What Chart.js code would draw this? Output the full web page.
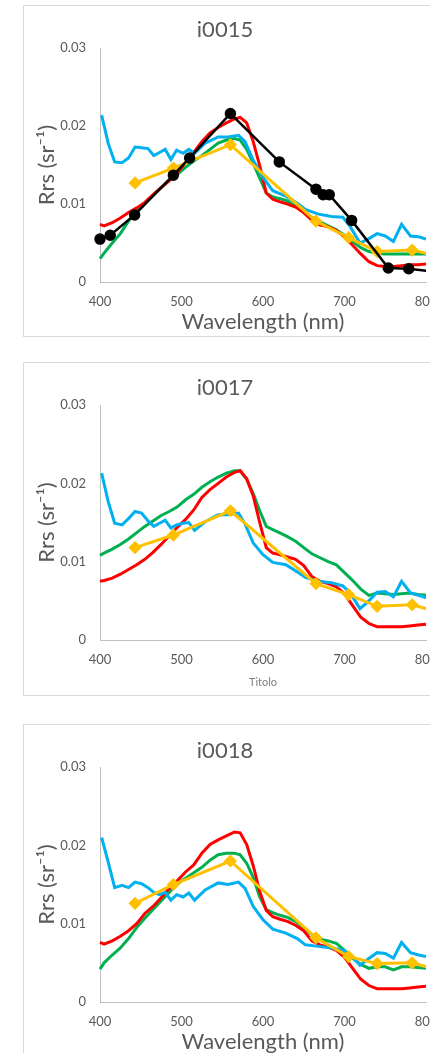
<!DOCTYPE html>
<html>
<head>
<meta charset="utf-8">
<title>Rrs spectra</title>
<script src="https://cdn.jsdelivr.net/npm/chart.js@4.4.1/dist/chart.umd.min.js"></script>
<style>
  html, body { margin: 0; padding: 0; background: #fff; }
  body { width: 430px; height: 1053px; overflow: hidden; position: relative; }
  .panel { position: absolute; left: 23px; width: 440px; border: 1px solid #d9d9d9; background: #fff; }
  .panel canvas { display: block; }
</style>
</head>
<body>
<div class="panel" style="top:5px;height:330px"><canvas id="chart15" width="440" height="330"></canvas></div>
<div class="panel" style="top:362px;height:332px"><canvas id="chart17" width="440" height="332"></canvas></div>
<div class="panel" style="top:724px;height:332px"><canvas id="chart18" width="440" height="332"></canvas></div>
<script>
// axis ticks
const wlTicks = [400, 500, 600, 700, 800];
const rrsTicks = [0, 0.01, 0.02, 0.03];

// hyperspectral grid (red / green spectra)
const specWl = [400, 405, 415, 425, 435, 445, 455, 465, 475, 485, 495, 505, 515, 525, 535, 545, 555, 565,
  572, 580, 588, 596, 604, 612, 620,
  630, 640, 650, 660, 670, 680, 690, 700, 710, 720, 730, 740, 750, 760, 770, 780, 790, 800];
// radiometer grid (blue spectra)
const blueWl = [402, 410, 418, 427, 435, 443, 451, 459, 466, 473, 480, 487, 494, 502, 509, 516, 529, 545, 557, 570,
  578, 588, 600, 612, 628, 642, 652, 668, 684, 698, 707, 719, 729, 740, 750, 760, 770, 781, 791, 800];
// satellite bands
const msiBands = [443, 490, 560, 665, 705, 740, 783, 842];
const olciBands = [400, 412.5, 442.5, 490, 510, 560, 620, 665, 673.75, 681.25, 708.75, 753.75, 778.75, 865];

// i0015
const red15 = [0.0074, 0.0072, 0.0076, 0.0082, 0.0089, 0.0095, 0.0102, 0.0112, 0.0121, 0.0130, 0.0140, 0.0153, 0.0166, 0.0180, 0.0191, 0.0198, 0.0204, 0.0209,
  0.0211, 0.0204, 0.0180, 0.0149, 0.0114, 0.0106, 0.0103,
  0.0100, 0.0096, 0.0089, 0.0079, 0.0073, 0.0071, 0.0066, 0.0058, 0.0047, 0.0036, 0.0026, 0.0021, 0.0020, 0.0020, 0.0021, 0.0022, 0.0022, 0.0023];
const green15 = [0.0030, 0.0037, 0.0050, 0.0062, 0.0078, 0.0091, 0.0101, 0.0111, 0.0121, 0.0130, 0.0138, 0.0147, 0.0155, 0.0162, 0.0170, 0.0178, 0.0182, 0.0184,
  0.0182, 0.0170, 0.0152, 0.0133, 0.0114, 0.0109, 0.0107,
  0.0104, 0.0097, 0.0089, 0.0083, 0.0077, 0.0072, 0.0067, 0.0060, 0.0052, 0.0044, 0.0039, 0.0037, 0.0036, 0.0036, 0.0036, 0.0036, 0.0036, 0.0036];
const blue15 = [0.0214, 0.0178, 0.0154, 0.0153, 0.0159, 0.0173, 0.0172, 0.0171, 0.0162, 0.0166,
  0.0170, 0.0157, 0.0169, 0.0165, 0.0170, 0.0165, 0.0178, 0.0186, 0.0186, 0.0188,
  0.0180, 0.0156, 0.0134, 0.0117, 0.0110, 0.0101, 0.0093, 0.0087, 0.0084, 0.0083,
  0.0071, 0.0050, 0.0055, 0.0062, 0.0059, 0.0052, 0.0074, 0.0059, 0.0058, 0.0055];
const msi15 = [0.0127, 0.0146, 0.0176, 0.0078, 0.0057, 0.0039, 0.0041, 0.0027];
const olci15 = [0.0055, 0.0060, 0.0086, 0.0137, 0.0159, 0.0216, 0.0154, 0.0119, 0.0112, 0.0112, 0.0079, 0.0018, 0.0017, 0.0007];

// i0017
const red17 = [0.0075, 0.0076, 0.0079, 0.0084, 0.0090, 0.0096, 0.0103, 0.0112, 0.0122, 0.0133, 0.0144, 0.0154, 0.0166, 0.0182, 0.0192, 0.0200, 0.0208, 0.0214,
  0.0216, 0.0206, 0.0184, 0.0150, 0.0118, 0.0111, 0.0109,
  0.0106, 0.0103, 0.0095, 0.0081, 0.0075, 0.0072, 0.0068, 0.0059, 0.0044, 0.0029, 0.0021, 0.0017, 0.0017, 0.0017, 0.0017, 0.0018, 0.0019, 0.0020];
const green17 = [0.0108, 0.0111, 0.0116, 0.0122, 0.0129, 0.0137, 0.0145, 0.0152, 0.0159, 0.0164, 0.0170, 0.0179, 0.0186, 0.0195, 0.0202, 0.0208, 0.0213, 0.0216,
  0.0216, 0.0205, 0.0187, 0.0165, 0.0145, 0.0141, 0.0137,
  0.0132, 0.0126, 0.0118, 0.0110, 0.0105, 0.0100, 0.0096, 0.0086, 0.0076, 0.0065, 0.0057, 0.0060, 0.0059, 0.0058, 0.0059, 0.0060, 0.0058, 0.0057];
const blue17 = [0.0213, 0.0177, 0.0149, 0.0147, 0.0155, 0.0164, 0.0162, 0.0152, 0.0145, 0.0149,
  0.0153, 0.0143, 0.0147, 0.0149, 0.0150, 0.0140, 0.0151, 0.0160, 0.0160, 0.0162,
  0.0148, 0.0124, 0.0109, 0.0099, 0.0096, 0.0087, 0.0080, 0.0075, 0.0073, 0.0069,
  0.0060, 0.0040, 0.0049, 0.0061, 0.0062, 0.0055, 0.0075, 0.0060, 0.0057, 0.0054];
const msi17 = [0.0118, 0.0134, 0.0165, 0.0072, 0.0058, 0.0043, 0.0045, 0.0028];

// i0018
const red18 = [0.0076, 0.0074, 0.0078, 0.0084, 0.0091, 0.0100, 0.0113, 0.0122, 0.0133, 0.0145, 0.0155, 0.0166, 0.0175, 0.0190, 0.0201, 0.0207, 0.0212, 0.0217,
  0.0216, 0.0201, 0.0174, 0.0141, 0.0117, 0.0109, 0.0106,
  0.0103, 0.0098, 0.0091, 0.0078, 0.0073, 0.0070, 0.0066, 0.0057, 0.0043, 0.0029, 0.0021, 0.0017, 0.0017, 0.0017, 0.0017, 0.0018, 0.0019, 0.0020];
const green18 = [0.0042, 0.0050, 0.0060, 0.0069, 0.0081, 0.0095, 0.0107, 0.0118, 0.0129, 0.0140, 0.0151, 0.0158, 0.0165, 0.0172, 0.0181, 0.0188, 0.0190, 0.0190,
  0.0188, 0.0177, 0.0159, 0.0134, 0.0118, 0.0114, 0.0111,
  0.0108, 0.0103, 0.0095, 0.0086, 0.0080, 0.0078, 0.0075, 0.0066, 0.0056, 0.0048, 0.0043, 0.0045, 0.0045, 0.0041, 0.0045, 0.0045, 0.0044, 0.0043];
const blue18 = [0.0210, 0.0179, 0.0146, 0.0149, 0.0146, 0.0153, 0.0151, 0.0146, 0.0140, 0.0137,
  0.0140, 0.0130, 0.0137, 0.0134, 0.0139, 0.0130, 0.0143, 0.0152, 0.0150, 0.0153,
  0.0145, 0.0122, 0.0105, 0.0093, 0.0088, 0.0081, 0.0073, 0.0071, 0.0069, 0.0066,
  0.0061, 0.0047, 0.0055, 0.0063, 0.0062, 0.0056, 0.0076, 0.0063, 0.0060, 0.0058];
const msi18 = [0.0126, 0.0150, 0.0180, 0.0082, 0.0058, 0.0049, 0.0050, 0.0033];

const colors = { red: '#ff0000', green: '#00b050', blue: '#00b0f0', yellow: '#ffc000', black: '#000000' };
const textGray = '#595959';
const FONT = "Lato, 'Liberation Sans', sans-serif";

Chart.defaults.font.family = FONT;
Chart.defaults.animation = false;

function pairs(xs, ys) {
  return xs.map((x, i) => ({ x: x, y: ys[i] }));
}

function lineSet(xs, ys, color, extra) {
  return Object.assign({
    data: pairs(xs, ys),
    borderColor: color,
    backgroundColor: color,
    borderWidth: 3,
    pointRadius: 0,
    tension: 0,
    fill: false,
    clip: { left: 8, top: 8, right: 0, bottom: 8 }
  }, extra || {});
}

// dataset 0 is painted last, so it sits on top
function makePanel(id, p) {
  const sets = [];
  if (p.olci) {
    sets.push(lineSet(olciBands, p.olci, colors.black, { borderWidth: 2.5, pointRadius: 4.5, pointStyle: 'circle' }));
  }
  sets.push(lineSet(msiBands, p.msi, colors.yellow, { pointRadius: 4.5, pointStyle: 'rectRot' }));
  sets.push(lineSet(blueWl, p.blue, colors.blue));
  sets.push(lineSet(specWl, p.red, colors.red));
  sets.push(lineSet(specWl, p.green, colors.green));

  return new Chart(document.getElementById(id), {
    type: 'line',
    data: { datasets: sets },
    options: {
      responsive: false,
      devicePixelRatio: 1,
      layout: { padding: { left: 0, right: 38, top: 0, bottom: 0 } },
      plugins: {
        legend: { display: false },
        tooltip: { enabled: false },
        title: {
          display: true,
          text: p.title,
          color: textGray,
          font: { size: 22, weight: 'normal' },
          padding: { top: p.titleTop, bottom: 42 - p.titleTop - 26.4 }
        }
      },
      scales: {
        x: {
          type: 'linear',
          min: 400,
          max: 800,
          afterBuildTicks: s => { s.ticks = wlTicks.map(v => ({ value: v })); },
          afterFit: s => { s.height = p.xHeight; },
          grid: { display: false, drawTicks: false },
          border: { color: '#bfbfbf', width: 1 },
          ticks: { color: textGray, font: { size: 13 }, padding: 12, maxRotation: 0, autoSkip: false,
                   callback: v => String(v) },
          title: {
            display: true,
            text: p.xTitle,
            color: p.xTitleColor || textGray,
            font: { size: p.xTitleSize },
            padding: { top: 0, bottom: p.xTitleBottom }
          }
        },
        y: {
          min: 0,
          max: 0.03,
          afterBuildTicks: s => { s.ticks = rrsTicks.map(v => ({ value: v })); },
          afterFit: s => { s.width = 76; },
          grid: { display: false, drawTicks: false },
          border: { color: '#bfbfbf', width: 1 },
          ticks: { color: textGray, font: { size: 13 }, padding: 14, callback: v => String(v) },
          title: {
            display: true,
            text: 'Rrs (sr\u207B\u00B9)',
            color: textGray,
            font: { size: 22 },
            padding: { top: 10, bottom: 0 }
          }
        }
      }
    }
  });
}

makePanel('chart15', {
  title: 'i0015', titleTop: 11, xHeight: 54,
  xTitle: 'Wavelength (nm)', xTitleSize: 22, xTitleBottom: 1,
  red: red15, green: green15, blue: blue15, msi: msi15, olci: olci15
});
makePanel('chart17', {
  title: 'i0017', titleTop: 12, xHeight: 55,
  xTitle: 'Titolo', xTitleSize: 11, xTitleBottom: 6, xTitleColor: '#7f7f7f',
  red: red17, green: green17, blue: blue17, msi: msi17
});
makePanel('chart18', {
  title: 'i0018', titleTop: 13, xHeight: 55,
  xTitle: 'Wavelength (nm)', xTitleSize: 22, xTitleBottom: 2,
  red: red18, green: green18, blue: blue18, msi: msi18
});
</script>
</body>
</html>
